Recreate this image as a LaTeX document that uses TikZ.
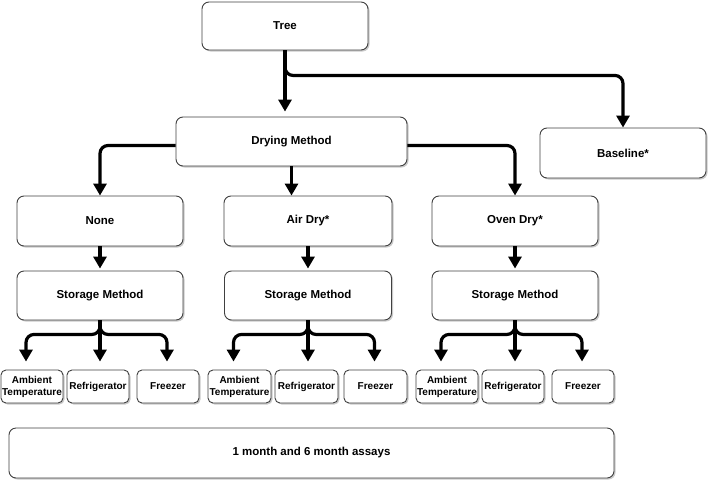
\documentclass[tikz,border=0pt]{standalone}
\usepackage{fontspec}
\setmainfont{Liberation Sans}
\usetikzlibrary{arrows.meta,shadows,calc}
\begin{document}
\begin{tikzpicture}[x=1pt,y=-1pt,
 box/.style={draw=black!75, line width=0.9pt, fill=white, rounded corners=7pt,
   drop shadow={shadow xshift=1.5pt, shadow yshift=-1.5pt, fill=black!35, opacity=0.6},
   font=\fontsize{11.5}{13.5}\selectfont\bfseries, inner sep=0pt, align=center},
 leaf/.style={box, rounded corners=5pt, minimum width=62pt, minimum height=33pt,
   font=\fontsize{10}{12}\selectfont\bfseries},
 arr/.style={line width=3.2pt, -{Triangle[width=13pt,length=12pt]}, rounded corners=8pt},
 leafarr/.style={arr, shorten >=8pt},
]
\useasboundingbox (0,0) rectangle (709,482);

\node[box, minimum width=166pt, minimum height=48pt] (tree) at (285,26) {Tree};
\node[box, minimum width=231pt, minimum height=49pt] (drying) at (291.5,141.5) {Drying Method};
\node[box, minimum width=166pt, minimum height=50pt] (baseline) at (623,153) {Baseline*};

\node[box, minimum width=166pt, minimum height=50pt] (none) at (100,221) {None};
\node[box, minimum width=168pt, minimum height=50pt] (air) at (308,221) {Air Dry*};
\node[box, minimum width=166pt, minimum height=50pt] (oven) at (515,221) {Oven Dry*};

\node[box, minimum width=166pt, minimum height=49pt] (s1) at (100,295.5) {Storage Method};
\node[box, minimum width=167pt, minimum height=49pt] (s2) at (308,295.5) {Storage Method};
\node[box, minimum width=166pt, minimum height=49pt] (s3) at (515,295.5) {Storage Method};

\node[leaf] (a1) at (32,386.5) {Ambient\\Temperature};
\node[leaf] (r1) at (98,386.5) {Refrigerator};
\node[leaf] (f1) at (168,386.5) {Freezer};
\node[leaf, minimum width=63pt] (a2) at (239.5,386.5) {Ambient\\Temperature};
\node[leaf, minimum width=63pt] (r2) at (306.5,386.5) {Refrigerator};
\node[leaf, minimum width=63pt] (f2) at (375.5,386.5) {Freezer};
\node[leaf] (a3) at (447,386.5) {Ambient\\Temperature};
\node[leaf] (r3) at (513,386.5) {Refrigerator};
\node[leaf] (f3) at (583,386.5) {Freezer};

\node[box, minimum width=605pt, minimum height=50pt] (assay) at (311.5,453) {1 month and 6 month assays};

% connectors
\draw[arr, shorten >=5pt] (tree.south) -- (tree.south |- drying.north);
\draw[arr] (tree.south) -- ++(0,25) -| (baseline.north);
\draw[arr] ($(drying.west)+(0,4)$) -| (none.north);
\draw[arr] (drying.south) -- (drying.south |- air.north);
\draw[arr] ($(drying.east)+(0,4)$) -| (oven.north);

\draw[arr, shorten >=2pt] (none.south) -- (none.south |- s1.north);
\draw[arr, shorten >=2pt] (air.south) -- (air.south |- s2.north);
\draw[arr, shorten >=2pt] (oven.south) -- (oven.south |- s3.north);

\foreach \s/\a/\r/\f in {s1/a1/r1/f1, s2/a2/r2/f2, s3/a3/r3/f3}{
  \draw[leafarr] (\s.south) -- ++(0,14) -| ($(\a.north)+(-6,0)$);
  \draw[leafarr] (\s.south) -- (\s.south |- \r.north);
  \draw[leafarr] (\s.south) -- ++(0,14) -| ($(\f.north)+(-1,0)$);
}
\end{tikzpicture}
\end{document}
